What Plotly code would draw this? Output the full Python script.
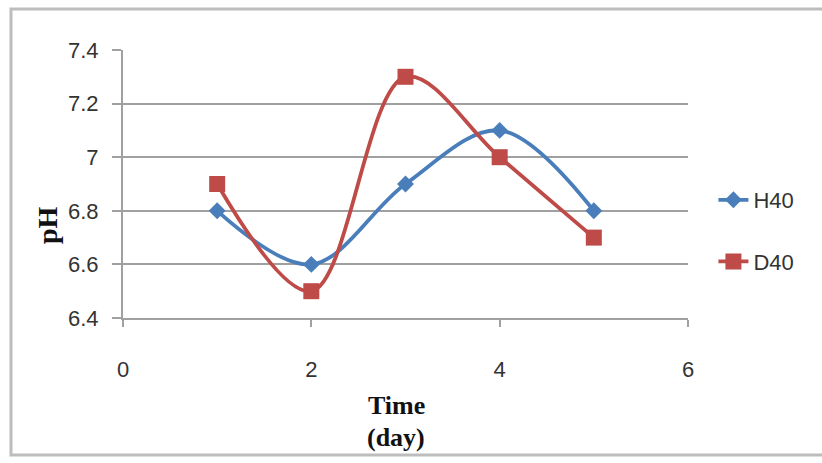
import plotly.graph_objects as go

days = [1, 2, 3, 4, 5]
h40 = [6.8, 6.6, 6.9, 7.1, 6.8]
d40 = [6.9, 6.5, 7.3, 7.0, 6.7]
x_ticks = [0, 2, 4, 6]
y_ticks = [6.4, 6.6, 6.8, 7.0, 7.2, 7.4]
y_tick_text = ["6.4", "6.6", "6.8", "7", "7.2", "7.4"]

blue = "#4A7EBB"
red = "#BE4B48"
grid = "#A0A0A0"

fig = go.Figure()
fig.add_trace(go.Scatter(
    x=days, y=h40, name="H40", mode="lines+markers",
    line=dict(color=blue, width=3.8, shape="spline", smoothing=1.0),
    marker=dict(symbol="diamond", size=13, color=blue),
    legendgroup="a"))
fig.add_trace(go.Scatter(
    x=days, y=d40, name="D40", mode="lines+markers",
    line=dict(color=red, width=3.8, shape="spline", smoothing=1.0),
    marker=dict(symbol="square", size=16, color=red),
    legendgroup="b"))

serif = "Liberation Serif, Times New Roman, serif"

fig.update_layout(
    width=822, height=463,
    margin=dict(l=123, r=134, t=50, b=145),
    paper_bgcolor="white", plot_bgcolor="white",
    font=dict(family="Liberation Sans, Arial, sans-serif", size=22, color="#333"),
    showlegend=True,
    legend=dict(x=1.045, xanchor="left", y=(318 - 231) / 268, yanchor="middle",
                font=dict(size=22, color="#333"),
                tracegroupgap=30, traceorder="grouped",
                bgcolor="rgba(0,0,0,0)"),
    xaxis=dict(range=[0, 6], tickvals=x_ticks, ticktext=[str(v) for v in x_ticks],
               showgrid=False, zeroline=False, showline=True, linecolor=grid, linewidth=2,
               ticks="outside", ticklen=7, tickcolor=grid, tickwidth=2,
               tickfont=dict(size=22), ticklabelstandoff=24),
    yaxis=dict(range=[6.4, 7.4], tickvals=y_ticks, ticktext=y_tick_text,
               showgrid=True, gridcolor=grid, gridwidth=2, zeroline=False,
               showline=True, linecolor=grid, linewidth=2,
               ticks="outside", ticklen=9, tickcolor=grid, tickwidth=2,
               tickfont=dict(size=22), ticklabelstandoff=9),
    annotations=[
        dict(text="<b>pH</b>", textangle=-90, xref="paper", yref="paper",
             x=(47 - 123) / 565, y=(318 - 225) / 268, xanchor="center", yanchor="middle",
             showarrow=False, font=dict(family=serif, size=28, color="#111")),
        dict(text="<b>Time</b>", xref="paper", yref="paper",
             x=(396 - 123) / 565, y=(318 - 405) / 268, xanchor="center", yanchor="middle",
             showarrow=False, font=dict(family=serif, size=26, color="#111")),
        dict(text="<b>(day)</b>", xref="paper", yref="paper",
             x=(396 - 123) / 565, y=(318 - 437) / 268, xanchor="center", yanchor="middle",
             showarrow=False, font=dict(family=serif, size=26, color="#111")),
    ],
    shapes=[dict(type="rect", xref="paper", yref="paper",
                 x0=(11 - 123) / 565, x1=(840 - 123) / 565,
                 y0=(318 - 455) / 268, y1=(318 - 9) / 268,
                 line=dict(color="#BDBDBD", width=3), layer="below")],
)

fig.write_html("out.html")
